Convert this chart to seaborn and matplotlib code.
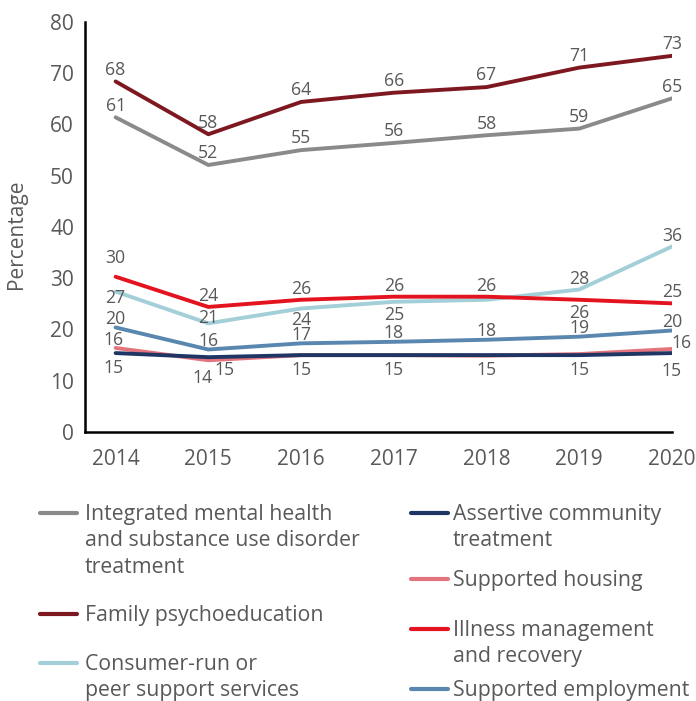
import numpy as np
import pandas as pd
import matplotlib
matplotlib.use("Agg")
import matplotlib.pyplot as plt
import seaborn as sns
from matplotlib.lines import Line2D

# ---------------- data ----------------
years = [2014, 2015, 2016, 2017, 2018, 2019, 2020]
integrated = [61.4, 52.1, 55.0, 56.4, 57.9, 59.2, 65.1]
family = [68.4, 58.1, 64.4, 66.2, 67.3, 71.1, 73.4]
consumer = [27.4, 21.2, 24.1, 25.4, 25.8, 27.8, 36.2]
employment = [20.4, 16.1, 17.3, 17.6, 18.0, 18.6, 19.8]
housing = [16.4, 14.0, 15.0, 15.0, 14.9, 15.2, 16.2]
assertive = [15.4, 14.6, 15.0, 15.0, 15.0, 15.0, 15.4]
illness = [30.3, 24.4, 25.8, 26.4, 26.4, 25.8, 25.1]

names = {
    "integrated": "Integrated mental health\nand substance use disorder\ntreatment",
    "family": "Family psychoeducation",
    "consumer": "Consumer-run or\npeer support services",
    "assertive": "Assertive community\ntreatment",
    "housing": "Supported housing",
    "illness": "Illness management\nand recovery",
    "employment": "Supported employment",
}
values = {
    "integrated": integrated, "family": family, "consumer": consumer,
    "employment": employment, "housing": housing, "assertive": assertive,
    "illness": illness,
}
colors = {
    "integrated": "#8a8a8a", "family": "#7d1820", "consumer": "#a3cfd8",
    "assertive": "#1f3664", "housing": "#e3737c", "illness": "#e3141f",
    "employment": "#5a87af",
}
draw_order = ["integrated", "family", "consumer", "employment", "housing",
              "assertive", "illness"]

rows = []
for key in draw_order:
    for y, v in zip(years, values[key]):
        rows.append({"year": y, "value": v, "series": key})
df = pd.DataFrame(rows)

# ---------------- style ----------------
sns.set_theme(style="white")
plt.rcParams["font.family"] = ["Open Sans", "DejaVu Sans"]
TXT = "#595959"

fig = plt.figure(figsize=(6.96, 7.01), dpi=100)
W, H = 696, 701
ax = fig.add_axes([85 / W, 1 - 432 / H, (672 - 85) / W, (432 - 22) / H])

sns.lineplot(data=df, x="year", y="value", hue="series", hue_order=draw_order,
             palette=colors, linewidth=2.8, legend=False, ax=ax,
             estimator=None, sort=False)

ax.set_xlim(2013.67, 2020)
ax.set_ylim(0, 80)
ax.set_xticks(years)
ax.set_xticklabels([str(y) for y in years])
ax.set_yticks(range(0, 81, 10))
ax.tick_params(axis="both", length=0, labelsize=15, colors=TXT)
ax.tick_params(axis="x", pad=12)
ax.tick_params(axis="y", pad=8)
for s in ["top", "right"]:
    ax.spines[s].set_visible(False)
for s in ["left", "bottom"]:
    ax.spines[s].set_color("black")
    ax.spines[s].set_linewidth(1.8)
ax.set_xlabel("")
ax.set_ylabel("")
fig.text(17 / W, 1 - 234 / H, "Percentage", rotation=90, ha="center",
         va="center", fontsize=15, color=TXT)

# ---------------- data labels ----------------
# offsets in points (dx, dy) of the label baseline from the data point
series_default = {
    "integrated": (0, 4.8), "family": (0, 4.8), "illness": (0, 4.3),
    "consumer": (0, 4.3), "employment": (0, 2.7), "housing": (0, 2.0),
    "assertive": (0, -14.1),
}
overrides = {
    ("illness", 0): (0, 9.9),
    ("illness", 5): (0, -13.2),
    ("consumer", 0): (0, -8.1),
    ("consumer", 1): (0, 0.5),
    ("consumer", 2): (0, -11.7),
    ("consumer", 3): (0, -13.2),
    ("housing", 0): (-1.5, 1.9),
    ("housing", 1): (-4, -16.6),
    ("housing", 6): (7, 0.7),
    ("assertive", 0): (-1.5, -14.4),
    ("assertive", 1): (12, -12.5),
    ("assertive", 6): (0, -16.5),
}
skip = {("housing", 2), ("housing", 3), ("housing", 4), ("housing", 5),
        ("consumer", 4)}

for key in draw_order:
    for i, (x, v) in enumerate(zip(years, values[key])):
        if (key, i) in skip:
            continue
        off = overrides.get((key, i), series_default[key])
        ax.annotate(f"{v:.0f}", (x, v), xytext=off, textcoords="offset points",
                    ha="center", va="baseline", fontsize=12.7, color=TXT,
                    annotation_clip=False)

# ---------------- legend (manual) ----------------
legend_left = ["integrated", "family", "consumer"]
legend_left_y = [513, 614, 663]
legend_right = ["assertive", "housing", "illness", "employment"]
legend_right_y = [513, 579, 629, 689]


def add_entry(key, ypix, x0, x1, xt):
    yf = 1 - ypix / H
    fig.add_artist(Line2D([x0 / W, x1 / W], [yf, yf], transform=fig.transFigure,
                          color=colors[key], linewidth=3.0,
                          solid_capstyle="round"))
    fig.text(xt / W, 1 - (ypix - 9) / H, names[key], ha="left", va="top",
             fontsize=15.3, color=TXT, linespacing=1.33)


for k, y in zip(legend_left, legend_left_y):
    add_entry(k, y, 40, 77, 85)
for k, y in zip(legend_right, legend_right_y):
    add_entry(k, y, 411, 448, 453)

fig.savefig("out.png", dpi=100)
